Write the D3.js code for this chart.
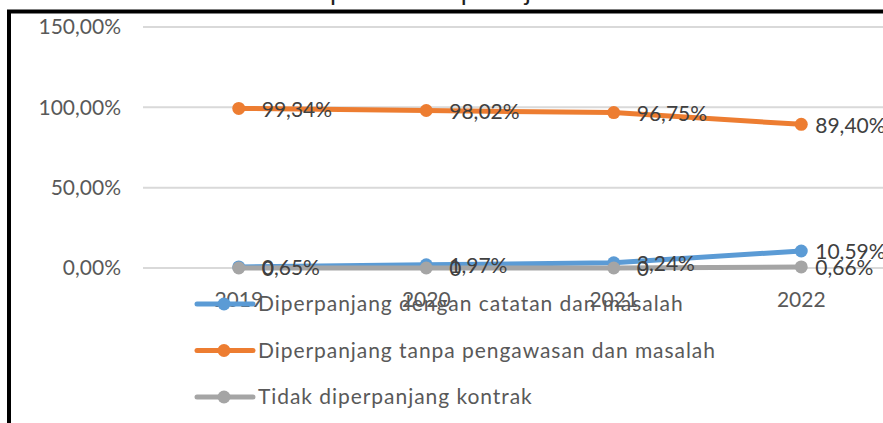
<!DOCTYPE html>
<html>
<head>
<meta charset="utf-8">
<script src="https://cdn.jsdelivr.net/npm/d3@7"></script>
<style>
  body { margin: 0; background: #fff; }
  svg { display: block; font-family: Lato, "Open Sans", sans-serif; }
</style>
</head>
<body>
<svg id="chart" width="883" height="423"></svg>
<script>
const years = ["2019", "2020", "2021", "2022"]
const denganCatatan = [0.65, 1.97, 3.24, 10.59]
const tanpaPengawasan = [99.34, 98.02, 96.75, 89.40]
const tidakDiperpanjang = [0, 0, 0, 0.66]
const yTicks = [0, 50, 100, 150]
const seriesNames = [
  "Diperpanjang dengan catatan dan masalah",
  "Diperpanjang tanpa pengawasan dan masalah",
  "Tidak diperpanjang kontrak"
]
const seriesColors = ["#5b9bd5", "#ed7d31", "#a5a5a5"]
const title = "Trend persentase pekerja berdasarkan status kontrak"

const series = [denganCatatan, tanpaPengawasan, tidakDiperpanjang].map((vals, i) => ({
  name: seriesNames[i],
  color: seriesColors[i],
  values: vals.map((v, j) => ({ year: years[j], v: v }))
}))

const fmt = v => v === 0 ? "0" : d3.format(".2f")(v).replace(".", ",") + "%"

const svg = d3.select("#chart")

// title, cut off at the top so only descenders show
let t = svg.append("text")
  .attr("y", 0)
  .attr("font-size", 26)
  .attr("fill", "#222")
  .text(title)
t.attr("x", 330 - t.node().getSubStringLength(0, 6))

let x = d3.scaleBand().domain(years).range([145, 895])
let y = d3.scaleLinear().domain([0, 150]).range([268, 27])

// gridlines + y labels
let gy = svg.append("g")
gy.selectAll("line")
  .data(yTicks)
  .enter()
  .append("line")
  .attr("x1", 143).attr("x2", 883)
  .attr("y1", d => y(d)).attr("y2", d => y(d))
  .style("stroke", "#d9d9d9")
  .style("stroke-width", 2)
gy.selectAll("text")
  .data(yTicks)
  .enter()
  .append("text")
  .attr("x", 121)
  .attr("y", d => y(d))
  .attr("dy", "0.35em")
  .attr("text-anchor", "end")
  .attr("font-size", 21)
  .attr("fill", "#595959")
  .text(d => d3.format(".2f")(d).replace(".", ",") + "%")

// x labels
svg.append("g").selectAll("text")
  .data(years)
  .enter()
  .append("text")
  .attr("x", d => x(d) + x.bandwidth() / 2)
  .attr("y", 300)
  .attr("dy", "0.35em")
  .attr("text-anchor", "middle")
  .attr("font-size", 21)
  .attr("fill", "#595959")
  .text(d => d)

let cx = d => x(d.year) + x.bandwidth() / 2
let toLine = d3.line().x(cx).y(d => y(d.v))

let sg = svg.selectAll(".series")
  .data(series)
  .enter()
  .append("g")
  .attr("class", "series")
sg.append("path")
  .attr("d", d => toLine(d.values))
  .style("fill", "none")
  .style("stroke", d => d.color)
  .style("stroke-width", 5)
  .style("stroke-linecap", "round")
  .style("stroke-linejoin", "round")
sg.selectAll("circle")
  .data(d => d.values.map(p => ({ ...p, color: d.color })))
  .enter()
  .append("circle")
  .attr("cx", cx)
  .attr("cy", d => y(d.v))
  .attr("r", 6.5)
  .style("fill", d => d.color)

// data labels
series.forEach(s => {
  svg.append("g").selectAll("text")
    .data(s.values)
    .enter()
    .append("text")
    .attr("x", (d, i) => cx(d) + (i === 3 ? 14 : 23))
    .attr("y", d => y(d.v) + 1)
    .attr("dy", "0.35em")
    .attr("font-size", 21)
    .attr("fill", "#404040")
    .text(d => fmt(d.v))
})

// legend
let lg = svg.append("g").selectAll("g")
  .data(series)
  .enter()
  .append("g")
  .attr("transform", (d, i) => "translate(197," + (304 + i * 46.5) + ")")
lg.append("line")
  .attr("x1", 0).attr("x2", 56)
  .style("stroke", d => d.color)
  .style("stroke-width", 5)
  .style("stroke-linecap", "round")
lg.append("circle")
  .attr("cx", 27).attr("r", 6.5)
  .style("fill", d => d.color)
lg.append("text")
  .attr("x", 61)
  .attr("dy", "0.35em")
  .attr("font-size", 21)
  .attr("letter-spacing", 0.95)
  .attr("fill", "#595959")
  .text(d => d.name)

// outer border
svg.append("rect")
  .attr("x", 9).attr("y", 11.5)
  .attr("width", 1000).attr("height", 1000)
  .style("fill", "none")
  .style("stroke", "#000")
  .style("stroke-width", 4)
</script>
</body>
</html>
